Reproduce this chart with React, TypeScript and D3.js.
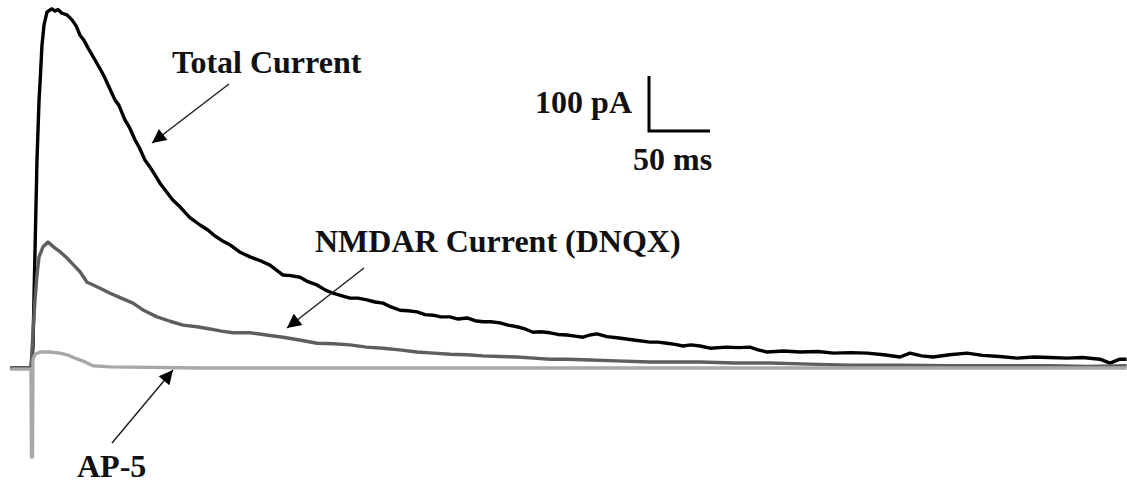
import * as d3 from "d3";

// time in ms from stimulus, current amplitude in pA (inward plotted upward)
const totalT = [-17, 0, 1.6, 3.3, 4.9, 6.6, 7.4, 9, 10.7, 13.1, 15.6, 17.2, 19.7, 22.1, 25.4, 29.5, 33.6, 37, 40.2, 43.4, 46.7, 52.5, 56.6, 60, 63.1, 68.9, 72, 77, 81, 85.2, 89, 93.4, 97, 101.6, 106, 109.8, 116, 122.1, 130, 138.5, 145, 150.8, 157, 163.1, 171, 179.5, 188, 195.9, 206.6, 213, 220.5, 227, 234.4, 241, 247.5, 255, 261.5, 268, 275.4, 282, 288.5, 295, 302.5, 309, 316.4, 323, 329.5, 336, 343.4, 350, 357.4, 364, 370.5, 377, 384.4, 391, 398.4, 405, 411.5, 418, 425.4, 432, 439.3, 446, 452.5, 458, 463.9, 472, 480.3, 494, 507.4, 514, 521.3, 528, 534.4, 541, 548.4, 556.6, 570, 580, 589.3, 596, 603.3, 617, 630.3, 645, 658, 672, 685.2, 699, 712.3, 720.5, 730, 739.3, 753, 767.2, 780, 794, 808.2, 822, 835, 849.2, 862, 876.2, 884.4, 892.6, 898];
const totalI = [0, 0, 38, 215, 378, 487, 518, 587, 624, 647, 651, 653, 649, 652, 645, 642, 633, 622, 605, 596, 582, 560, 544, 530, 515, 487, 478, 451, 436, 415, 400, 378, 367, 351, 335, 324, 306, 293, 274, 260, 251, 240, 231, 224, 211, 202, 195, 187, 169, 168, 165, 157, 151, 142, 136, 131, 127, 127, 124, 120, 118, 111, 105, 104, 102, 97, 96, 93, 93, 89, 91, 86, 84, 84, 82, 78, 75, 71, 65, 66, 64, 61, 60, 58, 56, 60, 62, 57, 55, 51, 47, 47, 45, 43, 40, 42, 40, 36, 38, 37, 38, 33, 29, 31, 29, 30, 27, 28, 27, 24, 20, 27, 22, 20, 24, 27, 23, 21, 18, 20, 19, 18, 19, 16, 9, 16, 16];

const nmdaT = [-17, 0, 1.6, 3.3, 4.9, 6.6, 9.8, 13.9, 19.7, 24, 29.5, 35, 40.2, 45.9, 51, 56.6, 64.8, 74, 83.6, 93, 103.3, 114, 124.6, 136, 146.7, 156, 165.6, 179.5, 193, 206.6, 220, 234.4, 248, 261.5, 275, 288.5, 302, 316.4, 330, 343.4, 357, 370.5, 384, 398.4, 412, 425.4, 439, 452.5, 480, 507.4, 528, 548.4, 577, 605.7, 638, 671.3, 712, 753.3, 794, 835.2, 866, 898];
const nmdaI = [0, 0, 64, 124, 169, 202, 220, 229, 218, 211, 200, 187, 175, 156, 151, 145, 136, 127, 118, 104, 93, 85, 78, 75, 71, 67, 64, 64, 60, 56, 51, 45, 44, 42, 38, 36, 33, 29, 27, 25, 24, 22, 21, 20, 18, 16, 16, 15, 13, 11, 11, 11, 9, 9, 7, 5, 5, 4, 4, 4, 3, 4];

const ap5T = [-17, 0, 0.4, 1.2, 1.6, 3.3, 7.4, 15.6, 23.8, 29.5, 36.1, 44.3, 50.8, 64.8, 138.5, 302.5, 548, 898];
const ap5I = [-2, -2, -162, -162, 15, 25, 29, 29, 27, 24, 18, 11, 4, 2, 0, 0, 0, 0];

const labels = ["Total Current", "NMDAR Current (DNQX)", "AP-5"];
const scaleBar = { ms: 50, pA: 100 };

const W = 1127;
const H = 487;

const toPts = (t: number[], v: number[]) => t.map((d, i) => [d, v[i]] as [number, number]);

export default function App() {
  // 50 ms = 61 px, 100 pA = 55 px
  const x = d3.scaleLinear().domain([0, 50]).range([31, 92]);
  const y = d3.scaleLinear().domain([0, 100]).range([368, 313]);

  const line = d3
    .line<[number, number]>()
    .x((d) => x(d[0]))
    .y((d) => y(d[1]));

  const traces = [
    { pts: toPts(totalT, totalI), color: "#000000" },
    { pts: toPts(nmdaT, nmdaI), color: "#5e5e5e" },
    { pts: toPts(ap5T, ap5I), color: "#a8a8a8" },
  ];

  const barX = 649;
  const barY = 131;
  const barW = x(scaleBar.ms) - x(0);
  const barH = y(0) - y(scaleBar.pA);

  const font = "'Liberation Serif', 'Times New Roman', serif";

  const arrows = [
    { x1: 229, y1: 84, x2: 152, y2: 143 },
    { x1: 364, y1: 268, x2: 287, y2: 328 },
    { x1: 112, y1: 443, x2: 173, y2: 370 },
  ];

  return (
    <svg
      width={W}
      height={H}
      style={{ position: "absolute", left: 0, top: 0, background: "#fff" }}
    >
      <defs>
        <marker
          id="head"
          viewBox="0 0 10 10"
          refX="10"
          refY="5"
          markerWidth="20"
          markerHeight="14"
          markerUnits="userSpaceOnUse"
          orient="auto"
        >
          <path d="M0,0 L10,5 L0,10 Z" fill="#000" />
        </marker>
      </defs>

      {traces.map((tr, i) => (
        <path
          key={i}
          d={line(tr.pts) ?? ""}
          fill="none"
          stroke={tr.color}
          strokeWidth={3.4}
          strokeLinejoin="round"
        />
      ))}

      {arrows.map((a, i) => (
        <line
          key={i}
          x1={a.x1}
          y1={a.y1}
          x2={a.x2}
          y2={a.y2}
          stroke="#222"
          strokeWidth={1.5}
          markerEnd="url(#head)"
        />
      ))}

      <g fontFamily={font} fontWeight="bold" fontSize={32} fill="#111">
        <text x={172} y={73}>{labels[0]}</text>
        <text x={315} y={252}>{labels[1]}</text>
        <text x={77} y={477}>{labels[2]}</text>
        <text x={632} y={113} textAnchor="end">{`${scaleBar.pA} pA`}</text>
        <text x={633} y={170}>{`${scaleBar.ms} ms`}</text>
      </g>

      <path
        d={`M${barX},${barY - barH} V${barY} H${barX + barW}`}
        fill="none"
        stroke="#000"
        strokeWidth={3}
      />
    </svg>
  );
}
